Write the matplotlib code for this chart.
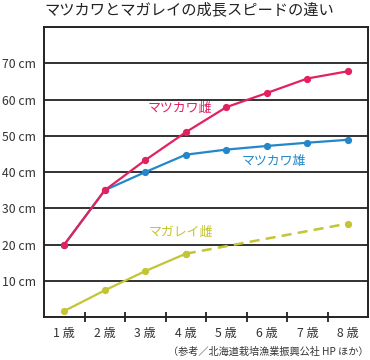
import matplotlib
matplotlib.use("Agg")
import matplotlib.pyplot as plt

plt.rcParams['font.family'] = ['Noto Sans CJK JP', 'DejaVu Sans']

ages = [1, 2, 3, 4, 5, 6, 7, 8]
age_labels = ["1 歳", "2 歳", "3 歳", "4 歳", "5 歳", "6 歳", "7 歳", "8 歳"]
matsukawa_f = [20, 35, 43.3, 51.0, 57.9, 61.8, 65.8, 67.8]
matsukawa_m = [20, 35, 40.0, 44.8, 46.2, 47.2, 48.1, 48.9]
magarei_ages = [1, 2, 3, 4]
magarei_f = [1.7, 7.4, 12.7, 17.5]
magarei_est_ages = [4, 8]
magarei_est = [17.5, 25.8]
y_ticks = [10, 20, 30, 40, 50, 60, 70]

pink = "#E3215E"
blue = "#2387C9"
olive = "#C3C534"

fig = plt.figure(figsize=(3.7, 3.6), dpi=100)
ax = fig.add_axes([0.119, 0.119, 0.876, 0.806])

for y in y_ticks:
    ax.axhline(y, color="#222222", lw=1.3, zorder=1)

ax.plot(ages, matsukawa_m, color=blue, lw=1.6, marker="o", ms=4.2, zorder=3)
ax.plot(ages, matsukawa_f, color=pink, lw=1.6, marker="o", ms=4.2, zorder=4)
ax.plot(magarei_ages, magarei_f, color=olive, lw=1.6, marker="o", ms=4.2, zorder=3)
ax.plot(magarei_est_ages, magarei_est, color=olive, lw=1.8, ls=(0, (4, 2.5)),
        marker="o", ms=4.2, zorder=3)

ax.text(3.86, 57.6, "マツカワ雌", color=pink, fontsize=9.3, ha="center", va="center")
ax.text(6.18, 43.0, "マツカワ雄", color=blue, fontsize=9.3, ha="center", va="center")
ax.text(3.88, 23.3, "マガレイ雌", color=olive, fontsize=9.3, ha="center", va="center")

ax.set_xlim(0.5, 8.5)
ax.set_ylim(0, 80)
ax.set_yticks(y_ticks)
ax.set_yticklabels([f"{v} cm" for v in y_ticks], fontsize=8.8, color="#333333")
ax.tick_params(axis="y", length=0, pad=6)
ax.set_xticks(ages)
ax.set_xticklabels(age_labels, fontsize=8.8, color="#333333")
ax.set_xticks([a + 0.5 for a in ages[:-1]], minor=True)
ax.tick_params(axis="x", which="major", length=0, pad=7)
ax.tick_params(axis="x", which="minor", direction="inout", length=7, width=1.3, color="#222222")

for s in ax.spines.values():
    s.set_linewidth(1.4)
    s.set_color("#222222")

fig.text(0.12, 0.972, "マツカワとマガレイの成長スピードの違い", fontsize=11,
         ha="left", va="center", color="#222222")
fig.text(0.995, 0.022, "（参考／北海道栽培漁業振興公社 HP ほか）", fontsize=7.3,
         ha="right", va="center", color="#333333")

fig.savefig("out.png", dpi=100)
